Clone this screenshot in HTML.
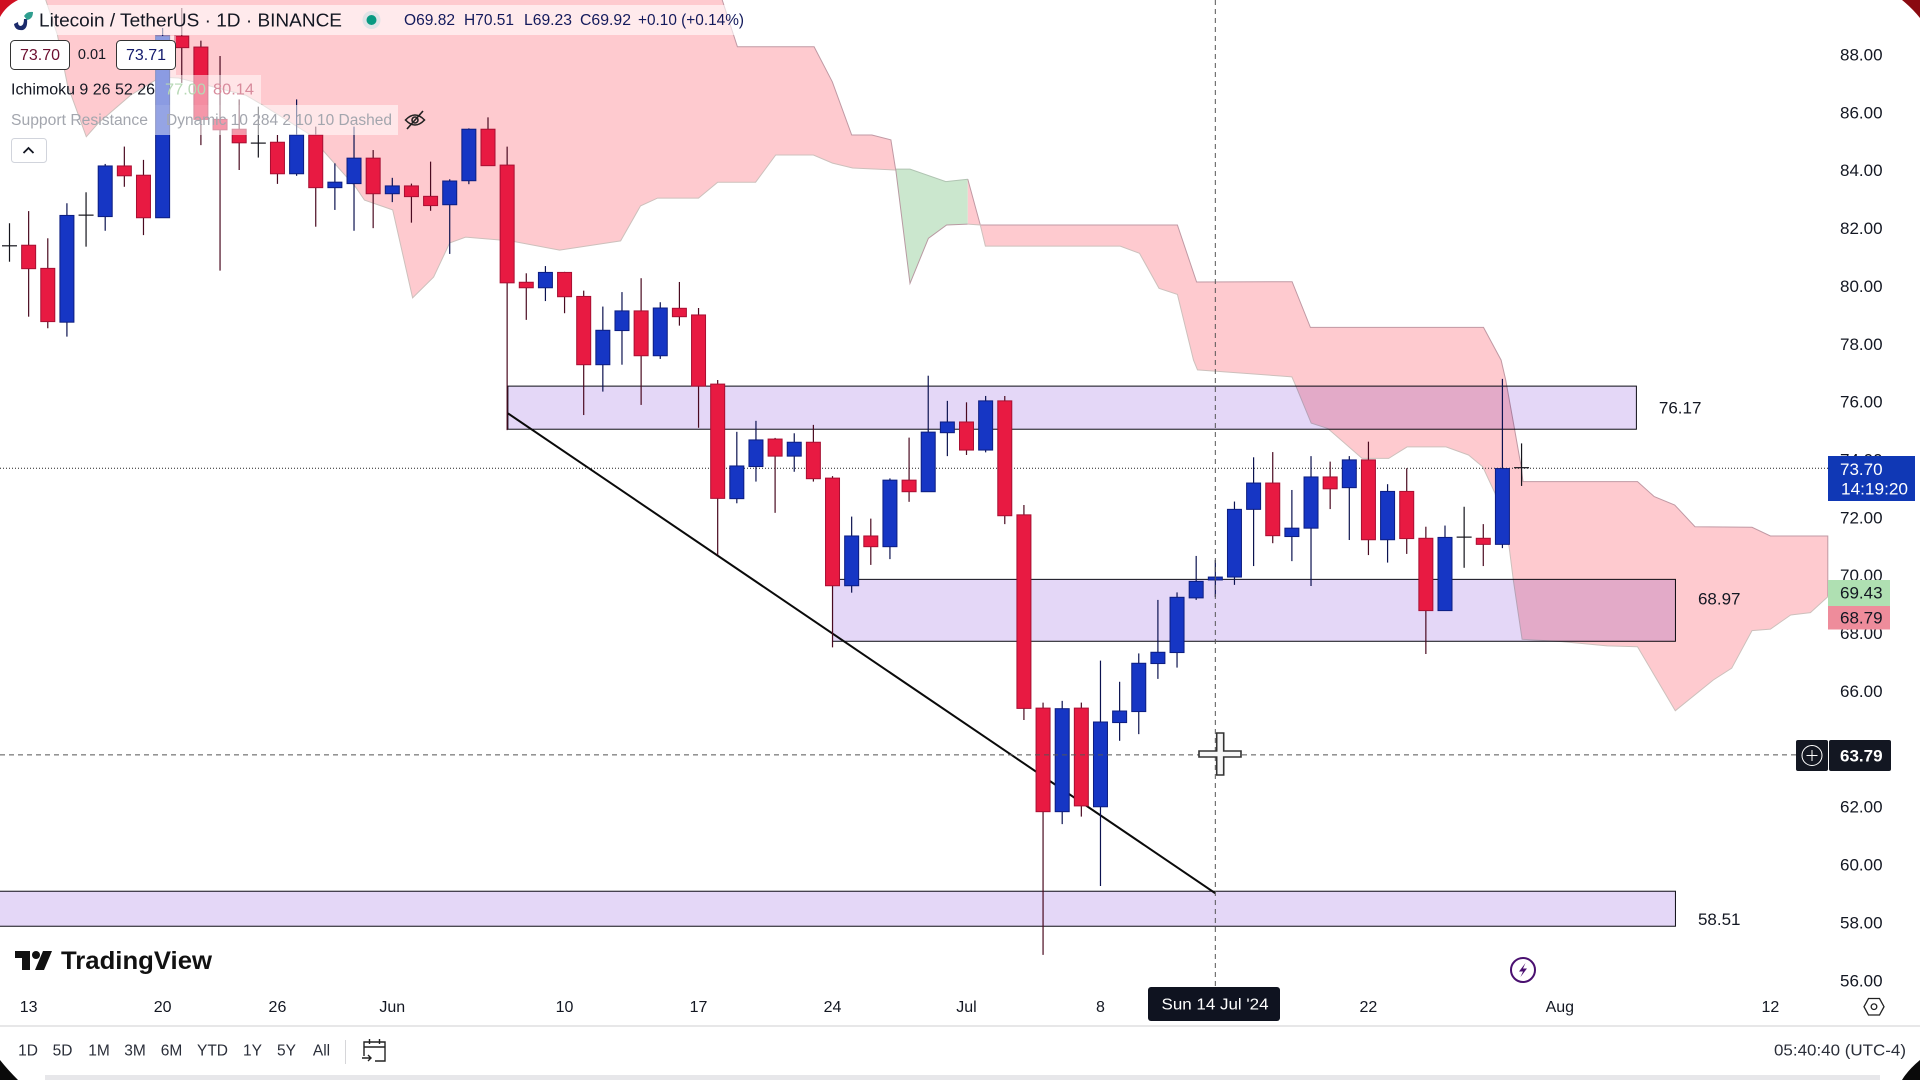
<!DOCTYPE html>
<html lang="en">
<head>
<meta charset="utf-8">
<title>Litecoin / TetherUS 1D chart</title>
<style>
html,body{margin:0;padding:0;background:#fff;width:1920px;height:1080px;overflow:hidden}
svg{display:block}
text{font-family:"Liberation Sans",sans-serif;fill:#131722;dominant-baseline:central}
.tick{font-size:17px}
.time{font-size:16px;text-anchor:middle}
.range{font-size:15.5px;text-anchor:middle;fill:#2a2e39}
.legend{font-size:16px}
.zone{mix-blend-mode:multiply}
</style>
</head>
<body>
<svg id="chart" width="1920" height="1080" viewBox="0 0 1920 1080" xmlns="http://www.w3.org/2000/svg">
  <rect x="0" y="0" width="1920" height="1080" fill="#ffffff"/>
  <g id="cloud-layer"></g>
  <g id="zone-layer"></g>
  <g id="trend-layer"></g>
  <line id="last-price-line" x1="0" x2="1828" stroke="#222" stroke-width="1" stroke-dasharray="1 2"/>
  <g id="candle-layer"></g>
  <line id="cross-v" y1="0" y2="987" stroke="#555" stroke-width="1" stroke-dasharray="5 4"/>
  <line id="cross-h" x1="0" x2="1796" stroke="#555" stroke-width="1" stroke-dasharray="5 4"/>
  <g id="y-axis"></g>
  <g id="x-axis"></g>

  <!-- legend overlays -->
  <rect x="15" y="5" width="719" height="30" fill="#fff" fill-opacity=".6"/>
  <rect x="155" y="36" width="21" height="39" fill="#fff" fill-opacity=".5"/>
  <rect x="155" y="75" width="106" height="30" fill="#fff" fill-opacity=".5"/>
  <rect x="155" y="105" width="243" height="30" fill="#fff" fill-opacity=".55"/>

  <g>
    <path d="M14 24 Q15 31 23 30 Q28 28 27 19 L24 19 Q24 25 21 26 Q18 26 18 22 Z" fill="#1b2a6b"/>
    <path d="M24 16 Q27 11 33 12 Q33 19 27 20 Z" fill="#2f9e8f"/>
  </g>
  <text x="39" y="20.5" font-size="18" textLength="303" lengthAdjust="spacingAndGlyphs">Litecoin / TetherUS · 1D · BINANCE</text>
  <circle cx="371.5" cy="20" r="9" fill="#e0e3e6"/>
  <circle cx="371.5" cy="20" r="5" fill="#089981"/>
  <text class="legend" x="404" y="20.5" style="fill:#131a5c" textLength="51" lengthAdjust="spacingAndGlyphs">O69.82</text>
  <text class="legend" x="464" y="20.5" style="fill:#131a5c" textLength="50" lengthAdjust="spacingAndGlyphs">H70.51</text>
  <text class="legend" x="524" y="20.5" style="fill:#131a5c" textLength="48" lengthAdjust="spacingAndGlyphs">L69.23</text>
  <text class="legend" x="580" y="20.5" style="fill:#131a5c" textLength="51" lengthAdjust="spacingAndGlyphs">C69.92</text>
  <text class="legend" x="638" y="20.5" style="fill:#131a5c" textLength="106" lengthAdjust="spacingAndGlyphs">+0.10 (+0.14%)</text>

  <rect x="10.5" y="40.5" width="59" height="29" rx="4" fill="#fff" stroke="#333" stroke-width="1"/>
  <text x="40" y="55.5" font-size="16" text-anchor="middle" style="fill:#6d1030">73.70</text>
  <text x="92" y="55" font-size="14.5" text-anchor="middle">0.01</text>
  <rect x="116.5" y="40.5" width="59" height="29" rx="4" fill="#fff" stroke="#333" stroke-width="1"/>
  <text x="146" y="55.5" font-size="16" text-anchor="middle" style="fill:#131a6c">73.71</text>

  <text x="11" y="90" font-size="15.5" textLength="144" lengthAdjust="spacingAndGlyphs">Ichimoku 9 26 52 26</text>
  <text x="165" y="90" font-size="15.5" style="fill:#b6d8b4" textLength="41" lengthAdjust="spacingAndGlyphs">77.00</text>
  <text x="213" y="90" font-size="15.5" style="fill:#d88b9c" textLength="41" lengthAdjust="spacingAndGlyphs">80.14</text>
  <text x="11" y="120.5" font-size="15.5" style="fill:#a3a6ae" textLength="137" lengthAdjust="spacingAndGlyphs">Support Resistance</text>
  <text x="166" y="120.5" font-size="15.5" style="fill:#a3a6ae" textLength="226" lengthAdjust="spacingAndGlyphs">Dynamic 10 284 2 10 10 Dashed</text>
  <g fill="none" stroke="#222" stroke-width="1.6">
    <path d="M405.5 120 Q415 110 424.5 120 Q415 130 405.5 120 Z"/>
    <circle cx="415" cy="120" r="3"/>
    <line x1="407" y1="129" x2="423" y2="111"/>
  </g>
  <rect x="11.5" y="138.5" width="35" height="24" rx="3" fill="#fff" stroke="#d1d4dc" stroke-width="1"/>
  <path d="M23.5 153 L28.5 148 L33.5 153" fill="none" stroke="#131722" stroke-width="1.8"/>

  <!-- price labels -->
  <rect x="1828" y="456" width="87" height="45" fill="#1038b5"/>
  <text class="tick" x="1840" y="469.5" style="fill:#fff">73.70</text>
  <text class="tick" x="1841" y="489" style="fill:#fff" textLength="67" lengthAdjust="spacingAndGlyphs">14:19:20</text>
  <rect x="1828" y="580" width="62" height="26" fill="#afe0b2"/>
  <text class="tick" x="1840" y="593">69.43</text>
  <rect x="1828" y="606" width="62" height="23.5" fill="#ee8c9b"/>
  <text class="tick" x="1840" y="618">68.79</text>
  <rect x="1796" y="740" width="32" height="31" rx="2" fill="#131722"/>
  <circle cx="1812" cy="755.5" r="10" fill="none" stroke="#fff" stroke-width="1"/>
  <path d="M1812 750 V761 M1806.5 755.5 H1817.5" stroke="#fff" stroke-width="1"/>
  <rect x="1829" y="740" width="62" height="31" rx="2" fill="#131722"/>
  <text class="tick" x="1840" y="756" font-weight="bold" style="fill:#fff">63.79</text>

  <path d="M1216.7 733 H1223.7 V751 H1241 V757 H1223.7 V775 H1216.7 V757 H1199 V751 H1216.7 Z" fill="#f6f6f6" stroke="#333" stroke-width="1.6"/>

  <!-- logo -->
  <g>
    <path d="M15 951 H30 V970 H22 V958 H15 Z" fill="#111"/>
    <circle cx="36" cy="955" r="4" fill="#111"/>
    <path d="M43 951 H52 L44 970 H35 Z" fill="#111"/>
    <text x="61" y="961" font-size="25" font-weight="bold" textLength="151" lengthAdjust="spacingAndGlyphs" style="fill:#111">TradingView</text>
  </g>

  <g>
    <circle cx="1523" cy="970" r="12" fill="#fff" stroke="#4a1070" stroke-width="2"/>
    <path d="M1525.5 963 L1519 971.5 H1523 L1520.5 977 L1527 968.5 H1523 Z" fill="#4a1070"/>
  </g>
  <g fill="none" stroke="#222" stroke-width="1.3">
    <path d="M1864 1006.7 L1868.5 998.5 H1879.5 L1884 1006.7 L1879.5 1015 H1868.5 Z"/>
    <circle cx="1874" cy="1006.7" r="2.8"/>
  </g>
  <rect x="1148" y="987" width="132" height="34" rx="3" fill="#0f1320"/>
  <text class="time" x="1215" y="1005" style="fill:#fff" font-size="17" textLength="107" lengthAdjust="spacingAndGlyphs">Sun 14 Jul '24</text>

  <!-- bottom bar -->
  <line x1="0" x2="1920" y1="1026" y2="1026" stroke="#cfcfd2" stroke-width="1"/>
  <text class="range" x="28" y="1051">1D</text>
  <text class="range" x="62.5" y="1051">5D</text>
  <text class="range" x="99" y="1051">1M</text>
  <text class="range" x="135" y="1051">3M</text>
  <text class="range" x="171.5" y="1051">6M</text>
  <text class="range" x="212.5" y="1051">YTD</text>
  <text class="range" x="252.5" y="1051">1Y</text>
  <text class="range" x="286.5" y="1051">5Y</text>
  <text class="range" x="321.5" y="1051">All</text>
  <line x1="345.5" x2="345.5" y1="1040" y2="1064" stroke="#d6d6d9" stroke-width="1"/>
  <g fill="none" stroke="#222" stroke-width="1.4">
    <path d="M364 1056 V1042 H385 V1061 H375"/>
    <path d="M364 1047 H385 M369.5 1039 V1044 M379.5 1039 V1044"/>
    <path d="M362 1058 H371 M368 1055 L371 1058 L368 1061"/>
  </g>
  <text x="1774" y="1051" font-size="15.5" textLength="132" lengthAdjust="spacingAndGlyphs" style="fill:#2a2e39">05:40:40 (UTC-4)</text>
  <rect x="45" y="1075" width="1835" height="5" fill="#e7e7ea"/>

  <!-- screen corners -->
  <path d="M0 0 H18 Q6 6 0 17 Z" fill="#d01022"/>
  <path d="M1902 0 Q1912 8 1920 18 V0 Z" fill="#8a0a10"/>
  <path d="M0 1060 Q8 1070 18 1080 H0 Z" fill="#0a0a0a"/>
  <path d="M1920 1060 Q1908 1070 1902 1080 H1920 Z" fill="#0a0a0a"/>
</svg>

<script>
// ---------- Categories ----------
const candleDates = [
"05-12","05-13","05-14","05-15","05-16","05-17","05-18","05-19","05-20","05-21","05-22","05-23","05-24","05-25","05-26","05-27","05-28","05-29","05-30","05-31",
"06-01","06-02","06-03","06-04","06-05","06-06","06-07","06-08","06-09","06-10","06-11","06-12","06-13","06-14","06-15","06-16","06-17","06-18","06-19","06-20","06-21","06-22","06-23","06-24","06-25","06-26","06-27","06-28","06-29","06-30",
"07-01","07-02","07-03","07-04","07-05","07-06","07-07","07-08","07-09","07-10","07-11","07-12","07-13","07-14","07-15","07-16","07-17","07-18","07-19","07-20","07-21","07-22","07-23","07-24","07-25","07-26","07-27","07-28","07-29","07-30"];

// ---------- OHLC series ----------
const opens = [81.38,81.39,80.59,78.73,82.42,82.38,84.13,83.81,82.34,88.62,88.24,85.74,85.40,84.93,84.95,83.86,85.20,83.38,83.52,84.40,
83.17,83.44,83.08,82.79,83.62,85.40,84.16,80.11,79.92,80.45,79.62,77.26,78.44,79.12,77.57,79.21,78.98,76.59,72.63,73.74,74.69,74.10,74.58,73.34,69.62,71.34,70.97,73.27,72.87,74.91,
75.28,74.31,76.01,72.07,65.39,61.81,65.39,61.98,64.89,65.27,66.93,67.31,69.20,69.82,69.92,72.26,73.17,71.32,71.61,73.38,73.01,73.97,71.21,72.88,71.26,68.76,71.29,71.26,71.05,73.70];
const highs = [82.15,82.57,81.63,82.84,83.22,84.20,84.80,84.34,88.90,89.59,88.46,87.93,86.43,86.18,85.20,86.43,85.49,84.22,85.49,84.68,
83.72,83.52,84.28,83.67,85.43,85.81,84.80,80.42,80.67,80.47,79.82,79.27,79.77,80.25,79.42,80.12,79.22,76.73,74.94,75.32,74.73,74.89,75.18,73.41,72.01,71.94,73.33,74.74,76.88,76.01,
75.96,76.18,76.18,72.41,65.58,65.64,65.58,67.03,66.30,67.28,69.13,69.39,70.65,70.51,72.53,74.06,74.24,72.93,74.10,73.91,74.10,74.60,73.13,73.68,71.66,71.70,72.35,71.75,76.77,74.54];
const lows = [80.82,78.92,78.52,78.23,81.34,81.89,83.41,81.74,82.33,87.00,84.85,80.51,83.99,84.42,83.51,83.79,82.03,82.61,81.89,81.98,
82.88,82.17,82.58,81.09,83.50,84.14,75.00,78.81,79.46,79.04,75.52,76.33,77.26,75.87,77.46,78.61,75.08,70.68,72.47,73.22,72.14,73.56,73.22,67.49,69.38,70.34,70.54,72.52,72.86,74.10,
74.14,74.23,71.75,64.98,56.86,61.38,61.64,59.24,64.26,64.49,66.40,66.79,69.13,69.23,69.65,70.30,71.09,70.47,69.61,72.27,71.20,70.68,70.42,70.72,67.26,68.75,70.24,70.30,70.92,73.07];
const closes = [81.37,80.58,78.75,82.42,82.43,84.13,83.79,82.34,88.62,88.22,85.74,85.38,84.93,84.92,83.86,85.20,83.38,83.57,84.40,83.17,
83.44,83.07,82.76,83.61,85.40,84.14,80.09,79.92,80.45,79.61,77.26,78.45,79.12,77.57,79.22,78.92,76.52,72.64,73.76,74.66,74.10,74.58,73.32,69.62,71.34,70.97,73.27,72.87,74.93,75.28,
74.31,76.01,72.04,65.38,61.81,65.37,62.01,64.91,65.29,66.94,67.32,69.22,69.77,69.92,72.26,73.17,71.35,71.61,73.38,72.97,73.97,71.21,72.88,71.25,68.76,71.29,71.30,71.05,73.67,73.70];

// ---------- Axis tick labels ----------
const priceTicks = [88,86,84,82,80,78,76,74,72,70,68,66,64,62,60,58,56];
const hiddenPriceTicks = [64];
const timeTickBars = [1,8,14,20,29,36,43,50,57,71,81,92];
const timeTickLabels = ["13","20","26","Jun","10","17","24","Jul","8","22","Aug","12"];

// ---------- Support / resistance zones ----------
const zoneTops = [76.52,69.84,59.06];
const zoneBottoms = [75.03,67.70,57.85];
const zoneStartBars = [26.04,43.0,-1];
const zoneEndBars = [85.0,87.04,87.04];
const zoneLabels = ["76.17","68.97","58.51"];
const zoneLabelPrices = [75.76,69.16,58.08];

// ---------- Trend line ----------
const trendBars = [26.04,63.0];
const trendPrices = [75.58,58.99];

// ---------- Crosshair / last price ----------
const crosshairBar = 63;
const crosshairPrice = 63.79;
const lastPrice = 73.70;

// ---------- Ichimoku cloud edges ----------
const redCloudUpperBars = [1.89,37.15,38.03,42.04,42.99,44.0,45.06,46.05,46.3];
const redCloudUpperPrices = [90.04,90.04,88.25,88.25,87.04,85.2,85.2,85.03,83.99];
const redCloudLowerBars = [1.89,2.5,3.03,4.01,4.65,6.33,7.89,8.84,12.33,13.22,15.73,16.36,18.08,18.55,20.02,21.06,22.16,23,23.83,26.18,28.74,31.93,32.97,33.86,36,37,38.98,40.03,42.0,43,44.05,46.3];
const redCloudLowerPrices = [89.87,88.66,86.93,85.14,85.62,86.58,87.2,87.17,86.58,86.24,85.2,84.68,83.40,82.95,82.61,79.57,80.29,81.47,81.67,81.54,81.22,81.54,82.75,83.02,83.02,83.57,83.57,84.51,84.51,84.23,84.06,83.99];

const greenCloudUpperBars = [46.3,47.05,48.92,50.07];
const greenCloudUpperPrices = [84.02,84.02,83.59,83.67];
const greenCloudLowerBars = [46.3,47.05,48.01,48.96,50.07];
const greenCloudLowerPrices = [84.02,80.07,81.63,82.09,82.12];

const futureCloudUpperBars = [50.07,50.72,61.02,62.02,67.01,67.97,77.01,77.93,78.17,78.61,78.99,79.07,85.06,85.93,87,88.06,91.04,92,95.0,95.0];
const futureCloudUpperPrices = [83.67,82.09,82.09,80.12,80.13,78.55,78.55,77.42,76.73,75.12,73.69,73.22,73.22,72.7,72.41,71.66,71.64,71.34,71.34,69.24];
const futureCloudLowerBars = [50.07,50.72,50.99,58.03,59.04,60.06,61.02,61.86,62.07,66.41,67.0,67.26,68.01,68.87,70.67,72.06,73.02,75.05,76.23,76.97,77.61,78.35,78.57,79.03,81.12,83.47,85.06,87.03,89.02,89.98,91.04,92,93.06,94.09,95.0];
const futureCloudLowerPrices = [82.12,82.09,81.36,81.36,81.11,79.9,79.69,77.42,77.08,76.87,76.84,76.44,75.24,75.06,74.02,74.02,74.42,74.42,74.14,73.73,72.82,70.97,69.82,67.77,67.69,67.54,67.51,65.30,66.36,66.77,68.07,68.12,68.61,68.69,69.24];

// ---------- Axis functions ----------
function xOf(bar){ return 9.5 + 19.14 * bar; }
function yOf(price){ return 54 + (88 - price) * 28.93; }

const NS = "http://www.w3.org/2000/svg";
function make(tag, parent, attrs){
  const el = document.createElementNS(NS, tag);
  for (const k in attrs) el.setAttribute(k, attrs[k]);
  parent.appendChild(el);
  return el;
}
function pts(bars, prices){
  return bars.map(function(b, i){ return xOf(b).toFixed(1) + "," + yOf(prices[i]).toFixed(1); });
}

// Cloud
const cloudLayer = document.getElementById("cloud-layer");
function drawCloud(name, upperBars, upperPrices, lowerBars, lowerPrices, fill, upStroke, lowStroke){
  const up = pts(upperBars, upperPrices);
  const low = pts(lowerBars, lowerPrices);
  const area = make("polygon", cloudLayer, {points: up.concat(low.slice().reverse()).join(" "), fill: fill, stroke: "none"});
  
  
  const l1 = make("polyline", cloudLayer, {points: up.join(" "), fill: "none", stroke: upStroke, "stroke-width": 1});
  
  
  const l2 = make("polyline", cloudLayer, {points: low.join(" "), fill: "none", stroke: lowStroke, "stroke-width": 1});
  
  
}
drawCloud("red-cloud", redCloudUpperBars, redCloudUpperPrices, redCloudLowerBars, redCloudLowerPrices, "#fecacf", "#c099a4", "#cdc0bc");
drawCloud("green-cloud", greenCloudUpperBars, greenCloudUpperPrices, greenCloudLowerBars, greenCloudLowerPrices, "#cbe7ce", "#b0c4b2", "#b89aa2");
drawCloud("future-cloud", futureCloudUpperBars, futureCloudUpperPrices, futureCloudLowerBars, futureCloudLowerPrices, "#fecacf", "#c099a4", "#cdc0bc");

// Zones
const zoneLayer = document.getElementById("zone-layer");
zoneTops.forEach(function(top, i){
  const x0 = xOf(zoneStartBars[i]), x1 = xOf(zoneEndBars[i]);
  const y0 = yOf(top), y1 = yOf(zoneBottoms[i]);
  const r = make("rect", zoneLayer, {x: x0, y: y0, width: x1 - x0, height: y1 - y0, fill: "#e4d7f7", stroke: "#0c0c14", "stroke-width": 1, "class": "zone"});
  
  
  const t = make("text", zoneLayer, {x: x1 + 22.5, y: yOf(zoneLabelPrices[i]), "font-size": 17});
  
  
  t.textContent = zoneLabels[i];
});

// Trend line
const trendLayer = document.getElementById("trend-layer");
const trend = make("line", trendLayer, {x1: xOf(trendBars[0]), y1: yOf(trendPrices[0]), x2: xOf(trendBars[1]), y2: yOf(trendPrices[1]), stroke: "#0a0a0a", "stroke-width": 2});



// Last price, crosshair
const lastLine = document.getElementById("last-price-line");
lastLine.setAttribute("y1", yOf(lastPrice) + 0.5);
lastLine.setAttribute("y2", yOf(lastPrice) + 0.5);
const crossV = document.getElementById("cross-v");
crossV.setAttribute("x1", xOf(crosshairBar));
crossV.setAttribute("x2", xOf(crosshairBar));
const crossH = document.getElementById("cross-h");
crossH.setAttribute("y1", yOf(crosshairPrice) + 0.5);
crossH.setAttribute("y2", yOf(crosshairPrice) + 0.5);

// Candles
const candleLayer = document.getElementById("candle-layer");
const bodyWidth = 14;
candleDates.forEach(function(date, i){
  const o = opens[i], h = highs[i], l = lows[i], c = closes[i];
  const up = c >= o;
  const doji = Math.abs(c - o) < 0.03;
  const x = xOf(i);
  const wickColor = doji ? "#14141c" : (up ? "#0b1250" : "#4a0a20");
  const g = make("g", candleLayer, {});
  
  
  const wick = make("line", g, {x1: x, x2: x, y1: yOf(h), y2: yOf(l), stroke: wickColor, "stroke-width": 1.2});
  
  
  if (doji) {
    const bar = make("line", g, {x1: x - bodyWidth/2 - 0.5, x2: x + bodyWidth/2 + 0.5, y1: yOf(c), y2: yOf(c), stroke: wickColor, "stroke-width": 1.2});
    
    
  } else {
    const top = yOf(Math.max(o, c)), bot = yOf(Math.min(o, c));
    const body = make("rect", g, {x: x - bodyWidth/2, y: top, width: bodyWidth, height: bot - top,
      fill: up ? "#1636c4" : "#e81a42", stroke: up ? "#0c1d80" : "#a80f32", "stroke-width": 1});
    
    
  }
});

// Y axis
const yAxis = document.getElementById("y-axis");
priceTicks.forEach(function(p){
  if (hiddenPriceTicks.indexOf(p) !== -1) return;
  const t = make("text", yAxis, {"class": "tick", x: 1840, y: yOf(p) + 1});
  
  
  t.textContent = p.toFixed(2);
});

// X axis
const xAxis = document.getElementById("x-axis");
timeTickBars.forEach(function(b, i){
  const t = make("text", xAxis, {"class": "time", x: xOf(b), y: 1007.5});
  
  
  t.textContent = timeTickLabels[i];
});
</script>
</body>
</html>
